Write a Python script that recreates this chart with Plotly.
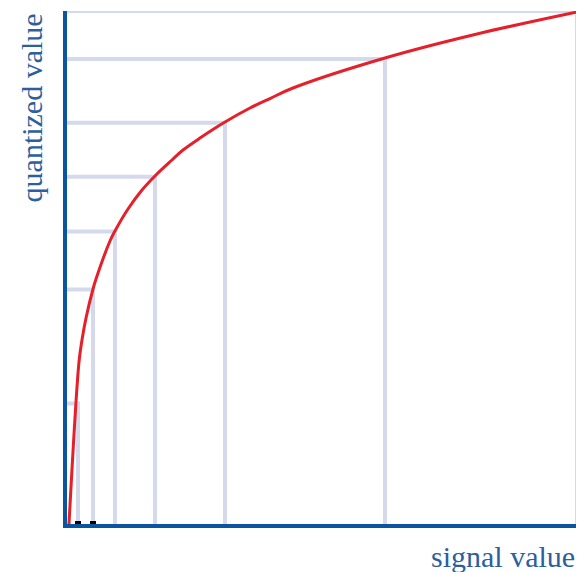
import plotly.graph_objects as go

# Curve samples (signal value -> quantized value)
curve_x = [0.0039, 0.0235, 0.0294, 0.0373, 0.0510, 0.0569, 0.0843, 0.0941, 0.1196,
           0.1471, 0.1725, 0.2059, 0.2275, 0.2608, 0.3098, 0.3588, 0.3980, 0.4431,
           0.6235, 0.8039, 1.0]
curve_y = [0.0, 0.3158, 0.3587, 0.4016, 0.4581, 0.4776, 0.5517, 0.5712, 0.6140,
           0.6511, 0.6784, 0.7096, 0.7290, 0.7524, 0.7836, 0.8109, 0.8294, 0.8499,
           0.9084, 0.9552, 0.9981]

# Grid corner points (each drawn as an L to both axes)
grid_x = [1.0, 0.6235, 0.3098, 0.1725, 0.094, 0.051, 0.0216]
grid_y = [1.0, 0.9066, 0.782, 0.677, 0.570, 0.457, 0.235]

# Small black marks on the signal axis
mark_x = [0.0216, 0.051]
mark_y = [0.0, 0.0]

x_title = "signal value"
y_title = "quantized value"

AXIS = "#0b55a0"
TEXT = "#2b5f9e"
GRID = "#d5d9ec"
RED = "#e5202b"

gx, gy = [], []
for xi, yi in zip(grid_x, grid_y):
    gx += [0, xi, xi, None]
    gy += [yi, yi, 0, None]

fig = go.Figure()
fig.add_trace(go.Scatter(x=gx, y=gy, mode="lines",
                         line=dict(color=GRID, width=4), hoverinfo="skip",
                         cliponaxis=False))
fig.add_trace(go.Scatter(x=curve_x, y=curve_y, mode="lines",
                         line=dict(color=RED, width=3, shape="spline", smoothing=1.0),
                         cliponaxis=False))
fig.add_trace(go.Scatter(x=mark_x, y=mark_y, mode="markers",
                         marker=dict(symbol="square", size=6, color="black"),
                         cliponaxis=False))

fig.update_layout(
    width=576, height=564,
    margin=dict(l=59, r=7, t=3, b=48),
    paper_bgcolor="white", plot_bgcolor="white",
    showlegend=False,
    xaxis=dict(range=[0, 1], showgrid=False, zeroline=False, showticklabels=False,
               ticks="", showline=True, linecolor=AXIS, linewidth=4),
    yaxis=dict(range=[0, 1], showgrid=False, zeroline=False, showticklabels=False,
               ticks="", showline=True, linecolor=AXIS, linewidth=4),
    annotations=[
        dict(text=x_title, xref="paper", yref="paper", x=1.0, y=-0.0624,
             xanchor="right", yanchor="middle", showarrow=False,
             font=dict(family="Liberation Serif", size=30, color=TEXT)),
        dict(text=y_title, xref="paper", yref="paper", x=-0.0706, y=0.812,
             xanchor="center", yanchor="middle", showarrow=False, textangle=-90,
             font=dict(family="Liberation Serif", size=30, color=TEXT)),
    ],
)

fig.write_html("out.html")
